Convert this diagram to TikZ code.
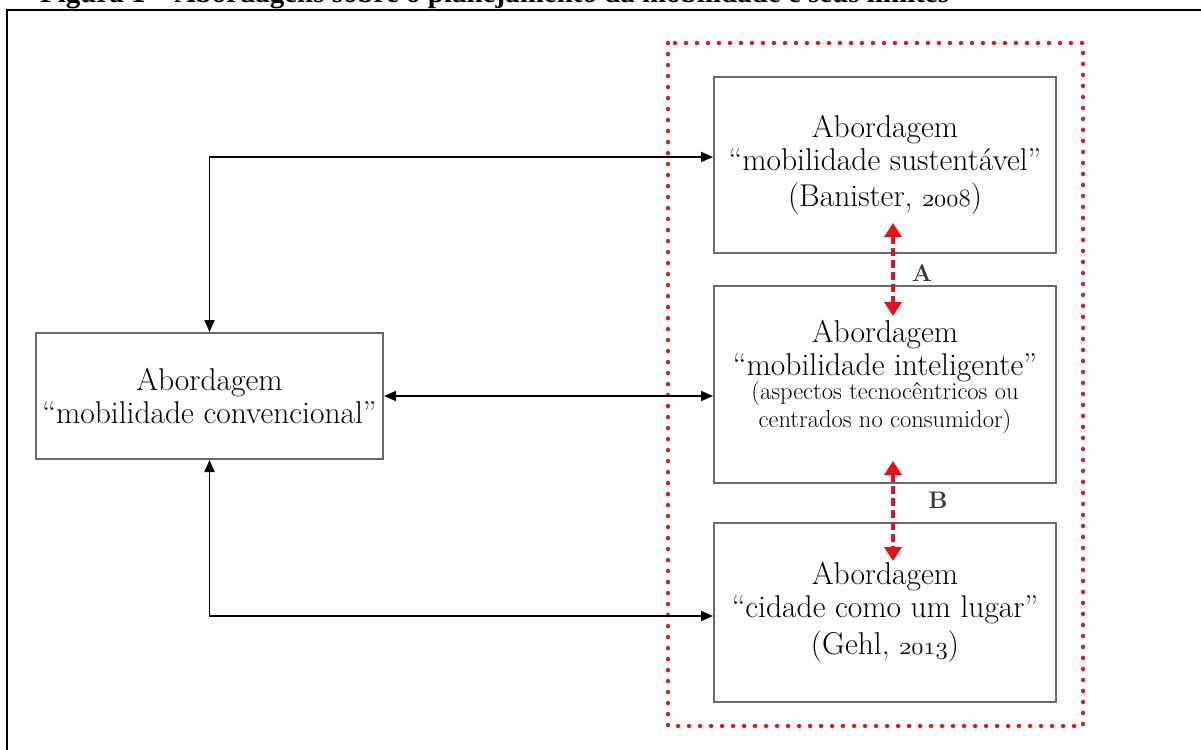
\documentclass[tikz,border=0pt]{standalone}
\usepackage{fontspec}
\newfontfamily\titlefont{Liberation Serif}
\usetikzlibrary{arrows.meta,calc}
\definecolor{boxgray}{HTML}{6A6A6A}
\definecolor{markred}{HTML}{E8101C}
\definecolor{labgray}{HTML}{383838}
\newcommand\smalltext{\fontsize{24.5}{27}\selectfont}
\tikzset{
  box/.style={draw=boxgray, line width=2pt, inner sep=0pt, align=center,
    minimum width=342pt, font=\fontsize{31.5}{33}\selectfont},
  conn/.style={line width=1.8pt,
    {Triangle[length=12pt,width=10pt]}-{Triangle[length=12pt,width=10pt]}},
  redarrow/.style={markred, line width=4pt, dash pattern=on 8pt off 4pt,
    {Triangle[length=14pt,width=17pt]}-{Triangle[length=14pt,width=17pt]}},
  region/.style={draw=markred, line width=4.5pt, line cap=round,
    dash pattern=on 0.1pt off 10.9pt},
  frameline/.style={line width=2pt},
  lab/.style={font=\bfseries\fontsize{24}{26}\selectfont, text=labgray, inner sep=0pt}
}
\begin{document}
\begin{tikzpicture}[x=1pt,y=-1pt]
\useasboundingbox (0,0) rectangle (1201,749);
\clip (0,0) rectangle (1201,749);
\fill[white] (0,0) rectangle (1201,749);

% caption of the figure, running above the frame
\node[anchor=base west, inner sep=0pt,
  font=\titlefont\bfseries\fontsize{29}{33}\selectfont] (title) at (40,2.5)
  {Figura 1 – Abordagens sobre o planejamento da mobilidade e seus limites};

% page frame
\draw[frameline] (7,800) -- (7,10) -- (1250,10);

% dotted region grouping the three alternative approaches
\draw[region] (668,43) rectangle (1083,726);

% approach boxes
\node[box, minimum width=347pt, minimum height=126pt] (L) at (209.5,396)
  {Abordagem\\“mobilidade convencional”};
\node[box, minimum height=176pt] (S1) at (885,165)
  {Abordagem\\“mobilidade sustentável”\\[3pt](Banister, $\mathnormal{2008}$)};
\node[box, minimum height=197pt, text depth=22pt] (S2) at (885,384.5)
  {Abordagem\\“mobilidade inteligente”\\[-9pt]
   \smalltext (aspectos tecnocêntricos ou\\[-5pt]
   \smalltext centrados no consumidor)};
\node[box, minimum height=179pt] (S3) at (885,612.5)
  {Abordagem\\“cidade como um lugar”\\[4pt](Gehl, $\mathnormal{2013}$)};

% links from the conventional approach
\draw[conn] (L.north) |- ([yshift=8pt]S1.west);
\draw[conn] (L.east) -- (L.east -| S2.west);
\draw[conn] (L.south) |- ([yshift=-3.5pt]S3.west);

% tensions between the alternative approaches
\draw[redarrow] ($(S1.south)+(8,-31)$) -- ($(S2.north)+(8,31)$);
\node[lab] (A) at (922,273) {A};
\draw[redarrow] ($(S2.south)+(8,-23)$) -- ($(S3.north)+(8,39)$);
\node[lab] (B) at (938,500) {B};
\end{tikzpicture}
\end{document}
